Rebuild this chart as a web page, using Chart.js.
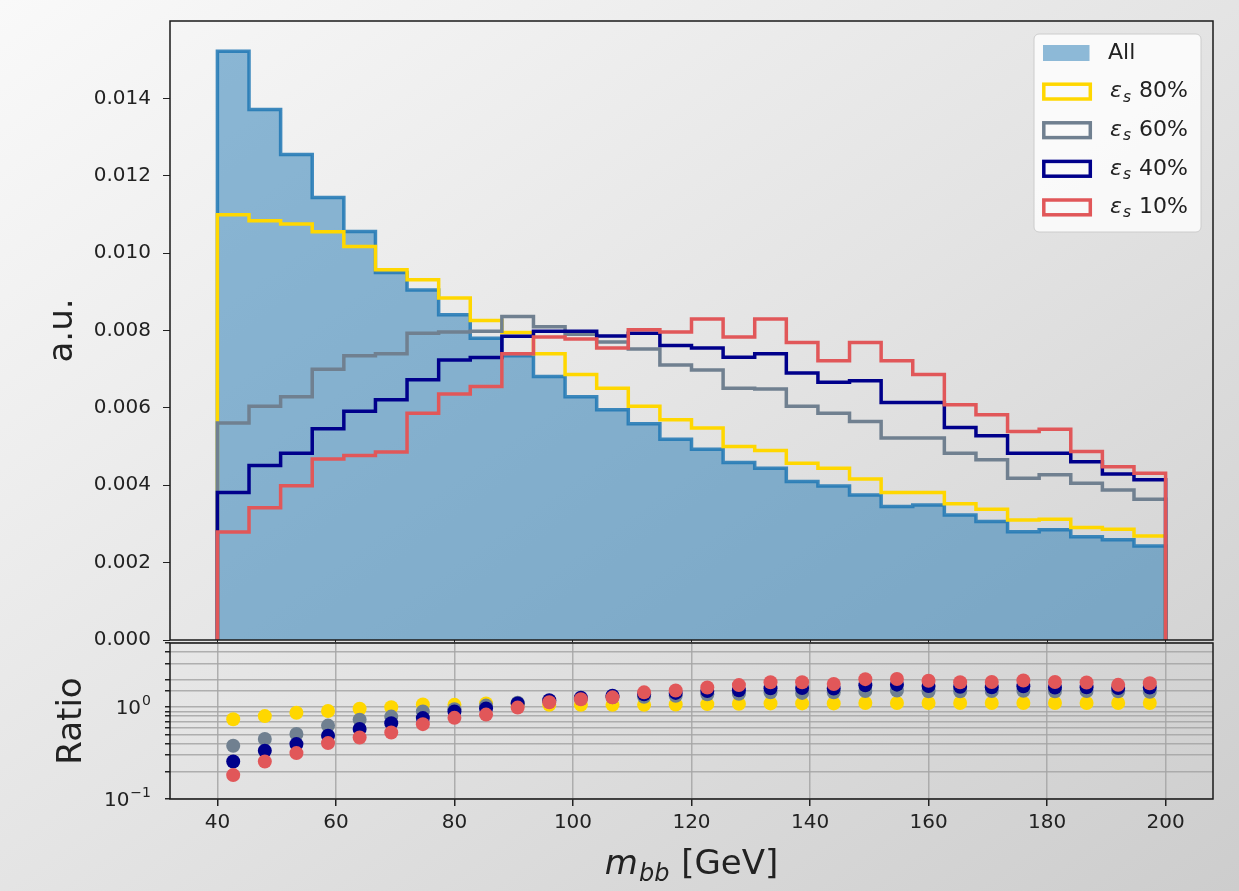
<!DOCTYPE html>
<html>
<head>
<meta charset="utf-8">
<script src="https://cdn.jsdelivr.net/npm/chart.js@4.4.1/dist/chart.umd.min.js"></script>
<style>
  html, body { margin: 0; padding: 0; }
  body {
    width: 1239px; height: 891px; overflow: hidden; position: relative;
    background: linear-gradient(to bottom right, #f9f9f9 0%, #e4e4e4 50%, #cdcdcd 100%);
  }
  canvas { position: absolute; left: 0; }
  #histChart { top: 0; }
  #ratioChart { top: 630px; }
</style>
</head>
<body>
<canvas id="histChart" width="1239" height="660"></canvas>
<canvas id="ratioChart" width="1239" height="261"></canvas>
<script>
// m_bb histogram, 30 bins from 40 to 200 GeV
const binEdges = [];
for (let i = 0; i <= 30; i++) binEdges.push(40 + i * 160 / 30);
const binCenters = binEdges.slice(0, -1).map((e, i) => (e + binEdges[i + 1]) / 2);

// normalised histograms (a.u.)
const histAll = [0.01522, 0.01371, 0.01255, 0.01144, 0.01056, 0.00950, 0.00905, 0.00841, 0.00780, 0.00735,
                 0.00681, 0.00629, 0.00595, 0.00559, 0.00519, 0.00493, 0.00459, 0.00444, 0.00410, 0.00398,
                 0.00375, 0.00345, 0.00349, 0.00323, 0.00306, 0.00280, 0.00285, 0.00267, 0.00259, 0.00243];
const hist80 = [0.01099, 0.01084, 0.01075, 0.01055, 0.01017, 0.00957, 0.00931, 0.00884, 0.00826, 0.00795,
                0.00740, 0.00686, 0.00651, 0.00604, 0.00569, 0.00548, 0.00500, 0.00490, 0.00457, 0.00444,
                0.00416, 0.00381, 0.00381, 0.00352, 0.00338, 0.00310, 0.00312, 0.00291, 0.00286, 0.00269];
const hist60 = [0.00561, 0.00604, 0.00629, 0.00700, 0.00735, 0.00740, 0.00793, 0.00796, 0.00798, 0.00836,
                0.00810, 0.00790, 0.00770, 0.00752, 0.00711, 0.00698, 0.00651, 0.00649, 0.00604, 0.00586,
                0.00565, 0.00522, 0.00522, 0.00483, 0.00466, 0.00418, 0.00427, 0.00405, 0.00388, 0.00364];
const hist40 = [0.00381, 0.00451, 0.00483, 0.00546, 0.00591, 0.00621, 0.00673, 0.00724, 0.00730, 0.00785,
                0.00798, 0.00798, 0.00786, 0.00793, 0.00761, 0.00755, 0.00731, 0.00740, 0.00690, 0.00666,
                0.00670, 0.00614, 0.00614, 0.00549, 0.00528, 0.00483, 0.00483, 0.00461, 0.00429, 0.00414];
const hist10 = [0.00279, 0.00342, 0.00399, 0.00468, 0.00477, 0.00486, 0.00586, 0.00636, 0.00655, 0.00740,
                0.00783, 0.00778, 0.00755, 0.00802, 0.00796, 0.00830, 0.00783, 0.00830, 0.00769, 0.00722,
                0.00769, 0.00722, 0.00686, 0.00608, 0.00582, 0.00539, 0.00545, 0.00487, 0.00448, 0.00431];

// ratio to "All"
const ratio80 = [0.74, 0.80, 0.87, 0.91, 0.96, 1.00, 1.07, 1.06, 1.10, 1.07,
                 1.06, 1.06, 1.06, 1.06, 1.07, 1.08, 1.09, 1.10, 1.10, 1.10,
                 1.11, 1.11, 1.11, 1.11, 1.11, 1.11, 1.11, 1.11, 1.11, 1.11];
const ratio60 = [0.38, 0.45, 0.51, 0.63, 0.73, 0.79, 0.90, 0.95, 1.04, 1.12,
                 1.17, 1.24, 1.28, 1.30, 1.33, 1.38, 1.40, 1.45, 1.43, 1.45,
                 1.50, 1.52, 1.49, 1.49, 1.50, 1.51, 1.49, 1.50, 1.49, 1.47];
const ratio40 = [0.256, 0.335, 0.396, 0.488, 0.58, 0.67, 0.76, 0.90, 0.97, 1.10,
                 1.19, 1.27, 1.33, 1.38, 1.43, 1.50, 1.53, 1.61, 1.62, 1.60,
                 1.73, 1.76, 1.70, 1.67, 1.65, 1.69, 1.64, 1.65, 1.62, 1.64];
const ratio10 = [0.182, 0.256, 0.316, 0.406, 0.467, 0.53, 0.653, 0.765, 0.83, 0.99,
                 1.13, 1.22, 1.28, 1.45, 1.52, 1.64, 1.74, 1.87, 1.87, 1.79,
                 2.02, 2.03, 1.94, 1.87, 1.88, 1.95, 1.88, 1.86, 1.75, 1.82];

const xTicks = [40, 60, 80, 100, 120, 140, 160, 180, 200];
const yTicks = [0.000, 0.002, 0.004, 0.006, 0.008, 0.010, 0.012, 0.014];
// labelled decades of the ratio axis: [value, base, exponent]
const ratioLabels = [[1, "10", "0"], [0.1, "10", "\u22121"]];

const colAll = "rgba(31, 119, 180, 0.85)";
const colAllFill = "rgba(31, 119, 180, 0.5)";
const col80 = "#ffd700";
const col60 = "#708090";
const col40 = "#00008b";
const col10 = "#e15759";

const legendRows = [
  {label: "All", eff: null, color: colAllFill, filled: true},
  {label: "80%", eff: true, color: col80},
  {label: "60%", eff: true, color: col60},
  {label: "40%", eff: true, color: col40},
  {label: "10%", eff: true, color: col10}
];

Chart.defaults.font.family = '"DejaVu Sans"';
Chart.defaults.font.size = 20;
Chart.defaults.color = "#222";

/**
 * Turns bin contents into points for a stepped outline, closed down to zero at both ends.
 */
function stepPoints(values){
  let pts = [{x: binEdges[0], y: 0}];
  values.forEach((v, i) => pts.push({x: binEdges[i], y: v}));
  pts.push({x: binEdges[binEdges.length - 1], y: 0});
  return pts;
}

function stepDataset(label, values, color, order){
  return {
    label: label,
    data: stepPoints(values),
    stepped: "before",
    borderColor: color,
    borderWidth: 3.5,
    pointRadius: 0,
    fill: false,
    order: order
  };
}

// fixed y axis width, and no extra room for half labels above/below the plot
function fixYAxis(s){
  s.width = 170;
  s.paddingTop = 0;
  s.paddingBottom = 0;
}

function drawFrame(ctx, a){
  ctx.save();
  ctx.strokeStyle = "#1a1a1a";
  ctx.lineWidth = 1.5;
  ctx.strokeRect(a.left, a.top, a.right - a.left, a.bottom - a.top);
  ctx.restore();
}

function drawLegend(ctx){
  const x0 = 1034, y0 = 34, w = 167, h = 198, r = 5;
  ctx.save();
  ctx.beginPath();
  ctx.roundRect(x0, y0, w, h, r);
  ctx.fillStyle = "rgba(255, 255, 255, 0.8)";
  ctx.fill();
  ctx.strokeStyle = "#cccccc";
  ctx.lineWidth = 1;
  ctx.stroke();

  legendRows.forEach((row, i) => {
    const cy = 53 + i * 38.6;
    if (row.filled) {
      ctx.fillStyle = row.color;
      ctx.fillRect(1043, cy - 8, 46.5, 16);
    } else {
      ctx.strokeStyle = row.color;
      ctx.lineWidth = 3.5;
      ctx.strokeRect(1043.8, cy - 7.4, 46.5, 14.8);
    }
    ctx.fillStyle = "#222";
    ctx.textBaseline = "middle";
    ctx.textAlign = "left";
    if (row.eff) {
      ctx.font = 'italic 22px "DejaVu Sans"';
      ctx.fillText("\u03b5", 1110, cy);
      const we = ctx.measureText("\u03b5").width;
      ctx.font = 'italic 15.5px "DejaVu Sans"';
      ctx.fillText("s", 1110 + we + 1, cy + 6);
      ctx.font = '22px "DejaVu Sans"';
      ctx.fillText(row.label, 1139, cy);
    } else {
      ctx.font = '22px "DejaVu Sans"';
      ctx.fillText(row.label, 1108, cy);
    }
  });
  ctx.restore();
}

const histDecor = {
  id: "histDecor",
  afterDraw(chart){
    const ctx = chart.ctx;
    const a = chart.chartArea;
    drawFrame(ctx, a);
    ctx.save();
    ctx.fillStyle = "#222";
    ctx.font = '34px "DejaVu Sans"';
    ctx.translate(72, (a.top + a.bottom) / 2);
    ctx.rotate(-Math.PI / 2);
    ctx.textAlign = "center";
    ctx.textBaseline = "alphabetic";
    ctx.fillText("a.u.", 0, 0);
    ctx.restore();
    drawLegend(ctx);
  }
};

const ratioDecor = {
  id: "ratioDecor",
  afterDraw(chart){
    const ctx = chart.ctx;
    const a = chart.chartArea;
    drawFrame(ctx, a);

    // decade labels 10^0, 10^-1 with a raised exponent
    ctx.save();
    ctx.fillStyle = "#222";
    ctx.textAlign = "left";
    ctx.textBaseline = "alphabetic";
    ratioLabels.forEach(([v, base, ex]) => {
      const y = chart.scales.y.getPixelForValue(v);
      ctx.font = '14px "DejaVu Sans"';
      const we = ctx.measureText(ex).width;
      ctx.font = '20px "DejaVu Sans"';
      const wb = ctx.measureText(base).width;
      const x = 151 - we - wb - 1;
      ctx.fillText(base, x, y + 7);
      ctx.font = '14px "DejaVu Sans"';
      ctx.fillText(ex, x + wb + 1, y - 2);
    });
    ctx.restore();

    ctx.save();
    ctx.fillStyle = "#222";
    ctx.font = '34px "DejaVu Sans"';
    ctx.translate(81, (a.top + a.bottom) / 2);
    ctx.rotate(-Math.PI / 2);
    ctx.textAlign = "center";
    ctx.textBaseline = "alphabetic";
    ctx.fillText("Ratio", 0, 0);
    ctx.restore();

    // x label: m_bb [GeV]
    ctx.save();
    ctx.fillStyle = "#222";
    ctx.textBaseline = "alphabetic";
    ctx.textAlign = "left";
    const fMain = 'italic 34px "DejaVu Sans"';
    const fSub = 'italic 24px "DejaVu Sans"';
    const fText = '34px "DejaVu Sans"';
    ctx.font = fMain; const wm = ctx.measureText("m").width;
    ctx.font = fSub; const wb = ctx.measureText("bb").width;
    ctx.font = fText; const wg = ctx.measureText(" [GeV]").width;
    let x = (a.left + a.right) / 2 - (wm + wb + 2 + wg) / 2;
    const base = 244;
    ctx.font = fMain; ctx.fillText("m", x, base); x += wm + 1;
    ctx.font = fSub; ctx.fillText("bb", x, base + 7); x += wb + 1;
    ctx.font = fText; ctx.fillText(" [GeV]", x, base);
    ctx.restore();
  }
};

// upper panel
new Chart(document.getElementById("histChart"), {
  type: "line",
  data: {
    datasets: [
      Object.assign(stepDataset("All", histAll, colAll, 4), {fill: "origin", backgroundColor: colAllFill}),
      stepDataset("80%", hist80, col80, 3),
      stepDataset("60%", hist60, col60, 2),
      stepDataset("40%", hist40, col40, 1),
      stepDataset("10%", hist10, col10, 0)
    ]
  },
  options: {
    responsive: false,
    animation: false,
    layout: {autoPadding: false, padding: {top: 21, right: 26, left: 0, bottom: 0}},
    plugins: {legend: {display: false}, tooltip: {enabled: false}},
    scales: {
      x: {
        type: "linear",
        min: 32,
        max: 208,
        afterBuildTicks: (s) => { s.ticks = xTicks.map(v => ({value: v})); },
        ticks: {display: false},
        grid: {display: true, drawOnChartArea: false, drawTicks: true, tickLength: 3, tickColor: "#222"},
        border: {display: false},
        afterFit: (s) => { s.height = 20; }
      },
      y: {
        type: "linear",
        min: 0,
        max: 0.016,
        afterBuildTicks: (s) => { s.ticks = yTicks.map(v => ({value: v})); },
        ticks: {callback: (v) => v.toFixed(3), padding: 12, font: {size: 20}, color: "#222"},
        grid: {display: true, drawOnChartArea: false, drawTicks: true, tickLength: 7, tickColor: "#222"},
        border: {display: false},
        afterFit: fixYAxis
      }
    }
  },
  plugins: [histDecor]
});

function ratioDataset(label, values, color, order){
  return {
    label: label,
    data: binCenters.map((x, i) => ({x: x, y: values[i]})),
    backgroundColor: color,
    borderWidth: 0,
    pointRadius: 7,
    order: order
  };
}

// lower panel
new Chart(document.getElementById("ratioChart"), {
  type: "scatter",
  data: {
    datasets: [
      ratioDataset("80%", ratio80, col80, 3),
      ratioDataset("60%", ratio60, col60, 2),
      ratioDataset("40%", ratio40, col40, 1),
      ratioDataset("10%", ratio10, col10, 0)
    ]
  },
  options: {
    responsive: false,
    animation: false,
    layout: {autoPadding: false, padding: {top: 13, right: 26, left: 0, bottom: 0}},
    plugins: {legend: {display: false}, tooltip: {enabled: false}},
    scales: {
      x: {
        type: "linear",
        min: 32,
        max: 208,
        afterBuildTicks: (s) => { s.ticks = xTicks.map(v => ({value: v})); },
        ticks: {padding: 5, font: {size: 20}, color: "#222", autoSkip: false, maxRotation: 0},
        grid: {display: true, color: "rgba(165, 165, 165, 0.85)", lineWidth: 1.5, tickLength: 7, tickColor: "#222"},
        border: {display: false},
        afterFit: (s) => { s.height = 92; }
      },
      y: {
        type: "logarithmic",
        min: 0.1,
        max: 5,
        ticks: {autoSkip: false, padding: 6, callback: () => ""},
        grid: {display: true, color: "rgba(165, 165, 165, 0.85)", lineWidth: 1.5, tickLength: 5, tickColor: "#222"},
        border: {display: false},
        afterFit: fixYAxis
      }
    }
  },
  plugins: [ratioDecor]
});
</script>
</body>
</html>
